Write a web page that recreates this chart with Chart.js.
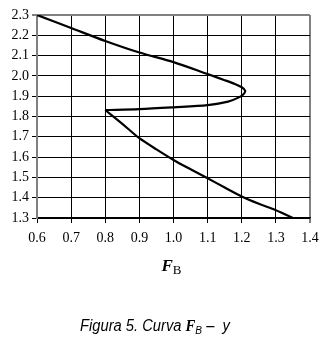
<!DOCTYPE html>
<html>
<head>
<meta charset="utf-8">
<script src="https://cdn.jsdelivr.net/npm/chart.js@4.4.0/dist/chart.umd.min.js"></script>
<style>
  html, body { margin: 0; padding: 0; background: #fff; }
  #wrap { position: relative; width: 330px; height: 353px; }
  #c { position: absolute; left: 0; top: 0; }
  #xtitle { position: absolute; left: 0; width: 343px; top: 256px; text-align: center;
            font-family: "Liberation Serif", serif; font-size: 15px; color: #000; }
  #xtitle b { font-style: italic; font-size: 17px; }
  #xtitle sub { font-size: 13px; vertical-align: -3px; }
  #caption { position: absolute; left: 80px; top: 317px; white-space: nowrap;
             font-family: "Liberation Sans Narrow", "Liberation Sans", sans-serif; font-style: italic;
             font-size: 16px; color: #000; transform: scaleX(0.92); transform-origin: 0 0; }
  #caption b { font-family: "Liberation Serif", serif; }
  #caption sub { font-size: 11px; vertical-align: -3px; }
</style>
</head>
<body>
<div id="wrap">
  <canvas id="c" width="330" height="353"></canvas>
  <div id="xtitle"><b>F</b><sub>B</sub></div>
  <div id="caption">Figura 5. Curva <b>F</b><sub><i>B</i></sub> –&nbsp; y</div>
</div>
<script>
// Upper branch and turn (from (0.6, 2.3) round the nose back to (0.8, 1.832))
const upperFb = [0.60, 0.70, 0.80, 0.90, 1.00, 1.10, 1.15, 1.18, 1.20, 1.21, 1.205, 1.19, 1.16, 1.10, 1.00, 0.90, 0.80];
const upperY  = [2.30, 2.236, 2.172, 2.115, 2.068, 2.009, 1.979, 1.960, 1.944, 1.927, 1.910, 1.893, 1.873, 1.856, 1.845, 1.836, 1.832];
// Lower branch (from (0.8, 1.832) down to (1.35, 1.3))
const lowerFb = [0.80, 0.85, 0.90, 0.95, 1.00, 1.05, 1.10, 1.15, 1.20, 1.25, 1.30, 1.35];
const lowerY  = [1.832, 1.764, 1.693, 1.638, 1.586, 1.540, 1.496, 1.450, 1.406, 1.370, 1.338, 1.30];
const xTickLabels = ["0.6", "0.7", "0.8", "0.9", "1.0", "1.1", "1.2", "1.3", "1.4"];
const yTickLabels = ["1.3", "1.4", "1.5", "1.6", "1.7", "1.8", "1.9", "2.0", "2.1", "2.2", "2.3"];

const toPts = (xs, ys) => xs.map((x, i) => ({ x: x, y: ys[i] }));
const lineStyle = { showLine: true, borderColor: '#000', borderWidth: 2.2, pointRadius: 0, tension: 0.3, fill: false };

const tickFont = { family: "Liberation Serif", size: 14 };

new Chart(document.getElementById('c'), {
  type: 'scatter',
  data: {
    datasets: [
      Object.assign({ data: toPts(upperFb, upperY) }, lineStyle),
      Object.assign({ data: toPts(lowerFb, lowerY) }, lineStyle)
    ]
  },
  options: {
    responsive: false,
    animation: false,
    layout: { padding: { top: 15, right: 20, left: 0, bottom: 0 } },
    plugins: { legend: { display: false }, tooltip: { enabled: false } },
    scales: {
      x: {
        type: 'linear',
        min: 0.6, max: 1.4,
        afterBuildTicks: (s) => { s.ticks = xTickLabels.map(v => ({ value: parseFloat(v) })); },
        afterFit: (s) => { s.height = 135; },
        ticks: {
          font: tickFont, color: '#000', padding: 7, maxRotation: 0,
          callback: (v, i) => xTickLabels[i]
        },
        grid: {
          color: (ctx) => ctx.index === xTickLabels.length - 1 ? '#808080' : '#000',
          lineWidth: (ctx) => ctx.index === xTickLabels.length - 1 ? 2 : 1,
          tickLength: 5, drawTicks: true,
          tickColor: '#000', tickWidth: 1
        },
        border: { color: '#000', width: 1.5 }
      },
      y: {
        type: 'linear',
        min: 1.3, max: 2.3,
        afterBuildTicks: (s) => { s.ticks = yTickLabels.map(v => ({ value: parseFloat(v) })); },
        afterFit: (s) => { s.width = 37; },
        ticks: {
          font: tickFont, color: '#000', padding: 3,
          callback: (v, i) => yTickLabels[i]
        },
        grid: {
          color: (ctx) => ctx.index === yTickLabels.length - 1 ? '#808080' : '#000',
          lineWidth: (ctx) => ctx.index === yTickLabels.length - 1 ? 2 : 1,
          tickLength: 5, drawTicks: true,
          tickColor: '#000', tickWidth: 1
        },
        border: { color: '#808080', width: 2 }
      }
    }
  }
});
</script>
</body>
</html>
